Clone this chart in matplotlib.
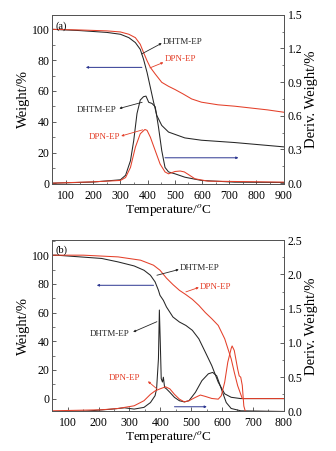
import matplotlib
matplotlib.use("Agg")
import matplotlib.pyplot as plt
from matplotlib.ticker import MultipleLocator

plt.rcParams['font.family'] = ['Liberation Serif', 'DejaVu Serif']
plt.rcParams['mathtext.fontset'] = 'stix'

# ---------------- Panel (a) data ----------------
a_tga_dhtm_T = [50, 150, 250, 300, 331, 355, 373, 385, 398, 410, 422, 434, 452, 477, 537, 598, 720, 900]
a_tga_dhtm_W = [100, 99.2, 98.0, 96.8, 94.6, 91.4, 87, 80.6, 72, 62.4, 52.7, 44, 37.6, 33.3, 29.5, 28, 26.5, 23.7]
a_tga_dpn_T = [50, 150, 250, 300, 331, 355, 373, 385, 398, 410, 428, 452, 477, 501, 531, 562, 598, 659, 720, 841, 900]
a_tga_dpn_W = [100, 99.6, 99.0, 98.3, 96.8, 94.6, 90.3, 85, 79.6, 75.3, 71, 65.6, 63, 60.9, 58, 54.8, 52.7, 51, 50.1, 47.7, 46.2]
a_dtg_dhtm_T = [50, 200, 300, 319, 337, 349, 361, 373, 385, 394, 404, 416, 428, 440, 452, 464, 477, 501, 537, 598, 720, 900]
a_dtg_dhtm_D = [0.0, 0.01, 0.03, 0.07, 0.2, 0.38, 0.62, 0.74, 0.77, 0.775, 0.72, 0.71, 0.68, 0.5, 0.29, 0.14, 0.10, 0.083, 0.053, 0.024, 0.009, 0.006]
a_dtg_dpn_T = [50, 200, 300, 319, 337, 355, 373, 390, 398, 410, 428, 446, 464, 477, 501, 520, 535, 550, 574, 622, 900]
a_dtg_dpn_D = [0.0, 0.012, 0.024, 0.05, 0.14, 0.32, 0.44, 0.478, 0.47, 0.41, 0.29, 0.17, 0.10, 0.083, 0.104, 0.108, 0.10, 0.077, 0.039, 0.018, 0.009]

# ---------------- Panel (b) data ----------------
b_tga_dhtm_T = [50, 63, 210, 263, 315, 347, 368, 383, 394, 399, 410, 420, 441, 462, 483, 504, 525, 546, 567, 588, 609, 630, 661, 800]
b_tga_dhtm_W = [100, 100, 97.7, 95.3, 92.5, 89.5, 86, 81.4, 75.5, 72, 68.5, 63.9, 56.9, 53.4, 51, 47.6, 41.7, 32.4, 23, 11.4, 3.3, 0.9, 0, 0]
b_tga_dpn_T = [50, 150, 263, 336, 378, 399, 420, 441, 462, 483, 504, 525, 546, 567, 588, 609, 630, 640, 651, 666, 800]
b_tga_dpn_W = [100, 100, 98.8, 96.5, 93, 89.5, 84, 79.5, 75.5, 72.5, 69.2, 65, 60, 55.7, 51, 41.7, 27.7, 18.4, 9, 0, 0]
b_dtg_dhtm_T = [50, 158, 242, 284, 315, 347, 368, 383, 388, 394, 397, 400, 403, 407, 410, 414, 420, 431, 446, 462, 478, 493, 514, 535, 556, 570, 583, 598, 614, 630, 661, 800]
b_dtg_dhtm_D = [0.0, 0.005, 0.034, 0.054, 0.035, 0.06, 0.13, 0.23, 0.33, 0.77, 1.48, 1.0, 0.48, 0.43, 0.5, 0.35, 0.33, 0.28, 0.206, 0.157, 0.14, 0.157, 0.28, 0.45, 0.55, 0.57, 0.52, 0.33, 0.13, 0.044, 0.01, 0.0]
b_dtg_dpn_T = [50, 210, 263, 315, 347, 368, 383, 399, 417, 431, 446, 462, 478, 493, 514, 530, 546, 567, 588, 598, 609, 619, 630, 633, 640, 651, 656, 661, 666, 671, 676, 800]
b_dtg_dpn_D = [0.01, 0.025, 0.044, 0.083, 0.157, 0.25, 0.30, 0.33, 0.36, 0.33, 0.25, 0.18, 0.14, 0.157, 0.206, 0.24, 0.22, 0.19, 0.18, 0.23, 0.43, 0.72, 0.92, 0.956, 0.89, 0.62, 0.52, 0.50, 0.38, 0.08, 0.0, 0.0]

BLACK = '#262626'
RED = '#e4402a'
BLUE = '#2b3590'
FS_TICK = 8.5
FS_XLAB = 9.5
FS_YLAB = 10.5
FS_ANN = 6.5
LW = 0.75

fig = plt.figure(figsize=(3.36, 4.51), dpi=100)

def style_axes(ax, ax2, xlim, xmajor, ylim, ymajor, y2lim, y2major, y2minor):
    ax.set_xlim(*xlim)
    ax.set_ylim(*ylim)
    ax2.set_ylim(*y2lim)
    ax.xaxis.set_major_locator(MultipleLocator(xmajor))
    ax.xaxis.set_minor_locator(MultipleLocator(xmajor / 2))
    ax.yaxis.set_major_locator(MultipleLocator(ymajor))
    ax.yaxis.set_minor_locator(MultipleLocator(ymajor / 2))
    ax2.yaxis.set_major_locator(MultipleLocator(y2major))
    ax2.yaxis.set_minor_locator(MultipleLocator(y2minor))
    for a in (ax, ax2):
        a.tick_params(axis='both', which='major', direction='in', length=3, width=0.6,
                      labelsize=FS_TICK, pad=2, color='#444444')
        a.tick_params(axis='both', which='minor', direction='in', length=1.8, width=0.5,
                      color='#444444')
        for s in a.spines.values():
            s.set_linewidth(0.7)
            s.set_color('#555555')
    ax.tick_params(axis='x', which='major', pad=4)
    ax.tick_params(axis='y', which='both', left=True, right=False)
    ax.tick_params(axis='x', which='both', top=False)
    ax2.tick_params(axis='y', which='major', pad=3)
    ax.set_xlabel('Temperature/$^o$C', fontsize=FS_XLAB, labelpad=0)
    ax.set_ylabel('Weight/%', fontsize=FS_YLAB, labelpad=1)
    ax2.set_ylabel('Deriv. Weight/%', fontsize=FS_YLAB, labelpad=2)
    for lab in ax2.get_yticklabels():
        lab.set_va('center_baseline')

def arrow(ax, p_from, p_to, color, lw=0.6, head=3):
    ax.annotate('', xy=p_to, xytext=p_from,
                arrowprops=dict(arrowstyle='-|>', color=color, lw=lw,
                                mutation_scale=head, shrinkA=0, shrinkB=0))

# ---------------- Panel (a) ----------------
axa = fig.add_axes([0.156, 0.5914, 0.688, 0.376])
axa2 = axa.twinx()
axa.plot(a_tga_dhtm_T, a_tga_dhtm_W, color=BLACK, lw=LW)
axa.plot(a_tga_dpn_T, a_tga_dpn_W, color=RED, lw=LW)
axa2.plot(a_dtg_dhtm_T, a_dtg_dhtm_D, color=BLACK, lw=LW)
axa2.plot(a_dtg_dpn_T, a_dtg_dpn_D, color=RED, lw=LW)
style_axes(axa, axa2, (50, 900), 100, (-0.6, 109.5), 20, (-0.01, 1.5), 0.3, 0.15)
axa.text(0.015, 0.96, '(a)', transform=axa.transAxes, fontsize=7.5, va='top', ha='left')
# annotations
axa.text(455, 91.5, 'DHTM-EP', fontsize=FS_ANN, color=BLACK, va='center', ha='left')
arrow(axa, (378, 84), (452, 91), BLACK)
axa.text(462, 80.5, 'DPN-EP', fontsize=FS_ANN, color=RED, va='center', ha='left')
arrow(axa, (409, 75), (458, 78.5), RED)
axa2.text(214, 0.655, 'DHTM-EP', fontsize=FS_ANN, color=BLACK, va='center', ha='center')
arrow(axa2, (380, 0.72), (296, 0.665), BLACK)
axa2.text(243, 0.41, 'DPN-EP', fontsize=FS_ANN, color=RED, va='center', ha='center')
arrow(axa2, (382, 0.475), (303, 0.42), RED)
arrow(axa, (379, 75.3), (173, 75.3), BLUE, lw=0.7)
arrow(axa, (464, 16.6), (734, 16.6), BLUE, lw=0.7)

# ---------------- Panel (b) ----------------
axb = fig.add_axes([0.156, 0.0876, 0.688, 0.380])
axb2 = axb.twinx()
axb.plot(b_tga_dhtm_T, b_tga_dhtm_W, color=BLACK, lw=LW)
axb.plot(b_tga_dpn_T, b_tga_dpn_W, color=RED, lw=LW)
axb2.plot(b_dtg_dhtm_T, b_dtg_dhtm_D, color=BLACK, lw=LW)
axb2.plot(b_dtg_dpn_T, b_dtg_dpn_D, color=RED, lw=LW)
style_axes(axb, axb2, (50, 800), 100, (-9, 110.5), 20, (0, 2.5), 0.5, 0.25)
axb.text(0.015, 0.97, '(b)', transform=axb.transAxes, fontsize=7.5, va='top', ha='left')
axb.text(464, 90.9, 'DHTM-EP', fontsize=FS_ANN, color=BLACK, va='center', ha='left')
arrow(axb, (389, 86), (460, 90), BLACK)
axb.text(529, 77.7, 'DPN-EP', fontsize=FS_ANN, color=RED, va='center', ha='left')
arrow(axb, (483, 74.4), (525, 77.5), RED)
axb2.text(237, 1.13, 'DHTM-EP', fontsize=FS_ANN, color=BLACK, va='center', ha='center')
arrow(axb2, (389, 1.31), (312, 1.16), BLACK)
axb2.text(283, 0.485, 'DPN-EP', fontsize=FS_ANN, color=RED, va='center', ha='center')
arrow(axb2, (389, 0.33), (360, 0.44), RED)
arrow(axb, (378, 79), (194, 79), BLUE, lw=0.7)
arrow(axb2, (446, 0.069), (551, 0.069), BLUE, lw=0.7)

fig.savefig('out.png', dpi=100)
